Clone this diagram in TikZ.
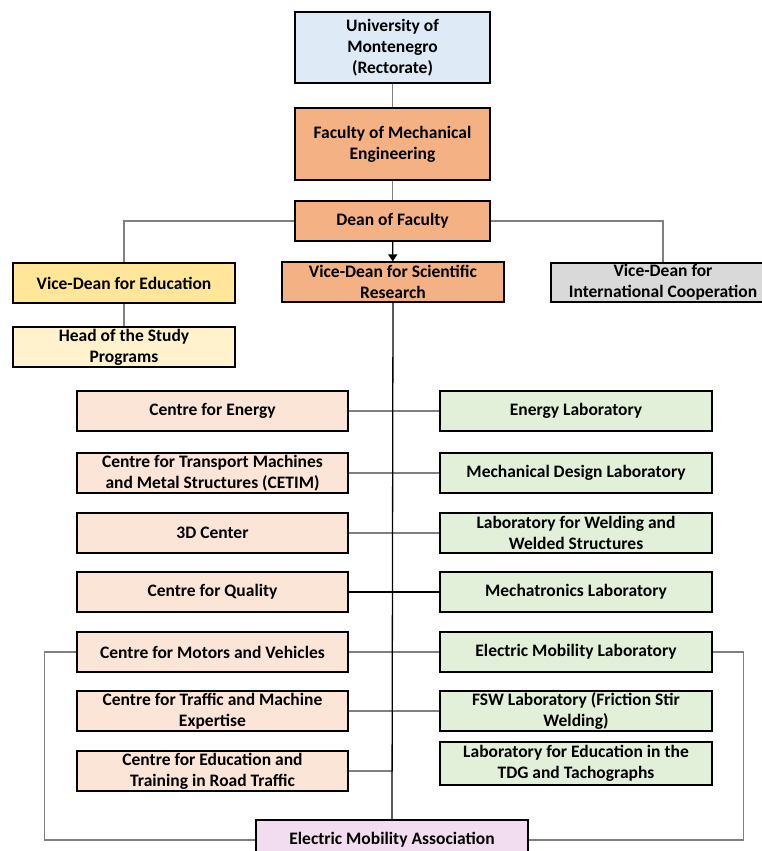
\documentclass[tikz,border=0pt]{standalone}
\usepackage{fontspec}
\setmainfont{Carlito}
\usetikzlibrary{arrows.meta}
\definecolor{rectblue}{HTML}{DEEBF7}
\definecolor{facorange}{HTML}{F4B183}
\definecolor{eduyellow}{HTML}{FFE699}
\definecolor{headyellow}{HTML}{FFF2CC}
\definecolor{intgray}{HTML}{D9D9D9}
\definecolor{centrepink}{HTML}{FBE5D6}
\definecolor{labgreen}{HTML}{E2F0D9}
\definecolor{assocpink}{HTML}{F2DCEF}
\definecolor{linkgray}{HTML}{808080}
\tikzstyle{unit}=[draw, line width=1.2pt, align=center, inner sep=0pt, font=\fontsize{17.5}{21}\selectfont\bfseries]
\tikzstyle{topunit}=[unit, minimum width=195pt]
\tikzstyle{vdunit}=[unit, minimum width=222pt, minimum height=40pt]
\tikzstyle{centre}=[unit, fill=centrepink, minimum width=271pt, minimum height=40pt]
\tikzstyle{lab}=[unit, fill=labgreen, minimum width=272pt, minimum height=40pt]
\tikzstyle{link}=[draw=linkgray, line width=1.2pt]
\tikzstyle{trunk}=[draw=black, line width=1.3pt]

\begin{document}
\begin{tikzpicture}[x=1pt, y=-1pt]
        \useasboundingbox (0,0) rectangle (762,851);
        \clip (0,0) rectangle (762,851);
        % management
        \node[topunit, fill=rectblue, minimum height=71pt] (rect) at (392.5,47.5) {University of\\Montenegro\\(Rectorate)};
        \node[topunit, fill=facorange, minimum height=72pt] (fac) at (392.5,144) {Faculty of Mechanical\\Engineering};
        \node[topunit, fill=facorange, minimum height=40pt] (dean) at (392.5,221) {Dean of Faculty};
        \node[vdunit, fill=facorange] (vdsci) at (393,282) {Vice-Dean for Scientific\\Research};
        \node[vdunit, fill=eduyellow] (vdedu) at (124,283) {Vice-Dean for Education};
        \node[vdunit, fill=intgray, minimum width=224pt, minimum height=39pt] (vdint) at (663,282.5) {Vice-Dean for\\International Cooperation};
        \node[vdunit, fill=headyellow] (head) at (124,347) {Head of the Study\\Programs};
        % centres
        \node[centre] (cen1) at (212.5,411) {Centre for Energy};
        \node[centre] (cen2) at (212.5,473) {Centre for Transport Machines\\and Metal Structures (CETIM)};
        \node[centre] (cen3) at (212.5,533) {3D Center};
        \node[centre] (cen4) at (212.5,592) {Centre for Quality};
        \node[centre] (cen5) at (212.5,652) {Centre for Motors and Vehicles};
        \node[centre] (cen6) at (212.5,711) {Centre for Traffic and Machine\\Expertise};
        \node[centre] (cen7) at (212.5,771) {Centre for Education and\\Training in Road Traffic};
        % laboratories
        \node[lab] (lab1) at (576,411) {Energy Laboratory};
        \node[lab] (lab2) at (576,473) {Mechanical Design Laboratory};
        \node[lab] (lab3) at (576,533) {Laboratory for Welding and\\Welded Structures};
        \node[lab] (lab4) at (576,592) {Mechatronics Laboratory};
        \node[lab] (lab5) at (576,652) {Electric Mobility Laboratory};
        \node[lab] (lab6) at (576,711) {FSW Laboratory (Friction Stir\\Welding)};
        \node[lab, minimum height=43pt] (lab7) at (576,763.5) {Laboratory for Education in the\\TDG and Tachographs};
        \node[unit, fill=assocpink, minimum width=272pt, minimum height=40pt] (assoc) at (392,840) {Electric Mobility Association};
        % connectors
        \draw[link] (rect) -- (fac);
        \draw[link] (fac) -- (dean);
        \draw[link] (dean.west) -| (vdedu.north);
        \draw[link] (dean.east) -| (vdint.north);
        \draw[link] (vdedu) -- (head);
        \draw[link] (cen1.east) -- (lab1.west);
        \draw[link] (cen2.east) -- (lab2.west);
        \draw[link] (cen3.east) -- (lab3.west);
        \draw[trunk] (cen4.east) -- (lab4.west);
        \draw[link] (cen5.east) -- (lab5.west);
        \draw[link] (cen6.east) -- (lab6.west);
        \draw[link] (cen7.east) -- (cen7.east -| vdsci.south);
        \draw[link] (cen5.west) -- ++(-32,0) |- (assoc.west);
        \draw[link] (lab5.east) -- ++(31,0) |- (assoc.east);
        \draw[trunk, -{Triangle[length=7pt, width=9pt]}] (dean) -- (vdsci);
        \draw[trunk] (vdsci.south) -- (assoc.north);
    \end{tikzpicture}
\end{document}
